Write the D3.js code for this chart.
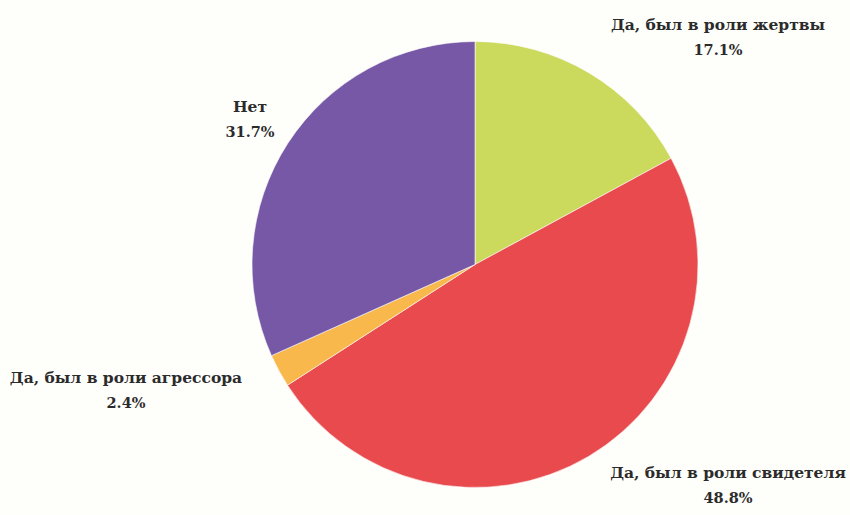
<!DOCTYPE html>
<html>
<head>
<meta charset="utf-8">
<script src="https://cdn.jsdelivr.net/npm/d3@7"></script>
<style>
  html, body { margin: 0; padding: 0; background: #fefefb; }
  svg { display: block; }
  .lbl { font-family: "DejaVu Serif", serif; font-weight: bold; fill: #2b2b2b; }
</style>
</head>
<body>
<script>
// survey answers, clockwise from 12 o'clock
var categories = ["Да, был в роли жертвы", "Да, был в роли свидетеля", "Да, был в роли агрессора", "Нет"];
var values = [17.1, 48.8, 2.4, 31.7];
var valueLabels = ["17.1%", "48.8%", "2.4%", "31.7%"];
var colours = ["#cbd95c", "#e84a4e", "#f8b84c", "#7758a6"];

window.onload = function() {

  var chartPad = {
    w: 850,
    h: 515,
    cx: 475,
    cy: 264.5,
    r: 223
  };

  drawPie(chartPad);
};

function drawPie(chartPad) {

  var svg = d3.select("body")
            .append("svg")
              .attr("width", chartPad.w)
              .attr("height", chartPad.h);

  var data = categories.map(function(c, i) {
    return { name: c, value: values[i], text: valueLabels[i], colour: colours[i] };
  });

  var pie = d3.pie()
              .sort(null)
              .value(function(d) { return d.value; });

  var arc = d3.arc()
              .innerRadius(0)
              .outerRadius(chartPad.r);

  var g = svg.append("g")
             .attr("transform", "translate(" + chartPad.cx + "," + chartPad.cy + ")");

  var arcs = pie(data);

  g.selectAll("path")
    .data(arcs)
    .enter()
  .append("path")
    .attr("d", arc)
    .attr("fill", function(d) { return d.data.colour; })
    .attr("stroke", "#fefefb")
    .attr("stroke-width", 0.6);

  // label offsets (relative to the pie centre), placed like the original
  var labelPos = [
    { x: 243, y: -235 },
    { x: 253, y: 213 },
    { x: -349, y: 118 },
    { x: -225, y: -153 }
  ];

  var labels = svg.append("g")
                  .attr("transform", "translate(" + chartPad.cx + "," + chartPad.cy + ")");

  var lab = labels.selectAll("g.label")
    .data(arcs)
    .enter()
  .append("g")
    .attr("class", "label")
    .attr("transform", function(d, i) {
      return "translate(" + labelPos[i].x + "," + labelPos[i].y + ")";
    });

  lab.append("text")
    .attr("class", "lbl")
    .attr("text-anchor", "middle")
    .attr("font-size", 15.5)
    .text(function(d) { return d.data.name; });

  lab.append("text")
    .attr("class", "lbl")
    .attr("text-anchor", "middle")
    .attr("font-size", 14.5)
    .attr("y", 25)
    .text(function(d) { return d.data.text; });
}
</script>
</body>
</html>
